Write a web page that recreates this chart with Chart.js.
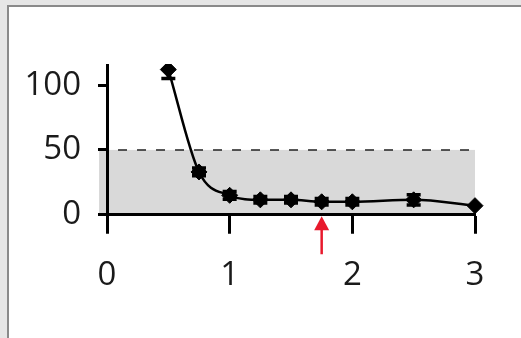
<!DOCTYPE html>
<html>
<head>
<meta charset="utf-8">
<script src="https://cdn.jsdelivr.net/npm/chart.js@4.4.0/dist/chart.umd.min.js"></script>
<style>
  html, body { margin:0; padding:0; width:521px; height:338px; overflow:hidden; background:#e6e6e6; }
  #frame { position:absolute; left:7px; top:5px; width:600px; height:400px; background:#fff;
           border-left:2.5px solid #8a8a8a; border-top:2.5px solid #8a8a8a; }
  #c { position:absolute; left:0; top:0; }
</style>
</head>
<body>
<div id="frame"></div>
<canvas id="c" width="521" height="338"></canvas>
<script>
// ---- data ----
const xValues   = [0.5, 0.75, 1.0, 1.25, 1.5, 1.75, 2.0, 2.5, 3.0];
const yValues   = [112, 33, 15, 11.5, 11.5, 10, 10, 11.5, 7];
const yErrors   = [7, 3, 3, 2.5, 2.5, 2.5, 2.5, 4, 0];
const yTickVals = [0, 50, 100];
const xTickVals = [0, 1, 2, 3];
const thresholdValue = 50;          // dashed line / shaded band upper bound
const bandXRange = [-0.065, 3];     // shaded band extent on x
const arrowX = [1.75];              // red arrow marker position

const points = xValues.map((x, i) => ({ x: x, y: yValues[i] }));

const bandPlugin = {
  id: 'band',
  beforeDraw(chart) {
    const { ctx, scales: { x, y } } = chart;
    const x0 = x.getPixelForValue(bandXRange[0]);
    const x1 = x.getPixelForValue(bandXRange[1]);
    const yt = y.getPixelForValue(thresholdValue);
    const yb = y.getPixelForValue(0);
    ctx.save();
    ctx.fillStyle = '#d9d9d9';
    ctx.fillRect(x0, yt, x1 - x0, yb - yt);
    ctx.strokeStyle = '#222';
    ctx.lineWidth = 1.5;
    ctx.setLineDash([9, 10]);
    ctx.beginPath();
    ctx.moveTo(x0, yt);
    ctx.lineTo(x1 + 2, yt);
    ctx.stroke();
    ctx.restore();
  }
};

const errorBarPlugin = {
  id: 'errbars',
  afterDatasetsDraw(chart) {
    const { ctx, chartArea, scales: { x, y } } = chart;
    ctx.save();
    ctx.beginPath();
    ctx.rect(0, chartArea.top - 1, chart.width, chart.height);
    ctx.clip();
    ctx.strokeStyle = '#000';
    ctx.lineWidth = 3.5;
    xValues.forEach((xv, i) => {
      const e = yErrors[i];
      if (!e) return;
      const px = x.getPixelForValue(xv);
      const ph = y.getPixelForValue(yValues[i] + e);
      const pl = y.getPixelForValue(yValues[i] - e);
      ctx.beginPath();
      ctx.moveTo(px, ph); ctx.lineTo(px, pl);
      ctx.moveTo(px - 7, ph); ctx.lineTo(px + 7, ph);
      ctx.moveTo(px - 7, pl); ctx.lineTo(px + 7, pl);
      ctx.stroke();
    });
    ctx.restore();
  }
};

const arrowPlugin = {
  id: 'arrow',
  afterDraw(chart) {
    const { ctx, scales: { x, y } } = chart;
    arrowX.forEach(av => {
      const px = x.getPixelForValue(av);
      const tip = y.getPixelForValue(0) + 1.5;
      ctx.save();
      ctx.strokeStyle = '#e8192c';
      ctx.fillStyle = '#e8192c';
      ctx.lineWidth = 2.5;
      ctx.beginPath();
      ctx.moveTo(px, tip + 10);
      ctx.lineTo(px, tip + 38);
      ctx.stroke();
      ctx.beginPath();
      ctx.moveTo(px, tip);
      ctx.lineTo(px - 7.5, tip + 14);
      ctx.lineTo(px + 7.5, tip + 14);
      ctx.closePath();
      ctx.fill();
      ctx.restore();
    });
  }
};

new Chart(document.getElementById('c'), {
  type: 'line',
  data: {
    datasets: [{
      data: points,
      borderColor: '#000',
      borderWidth: 2.5,
      cubicInterpolationMode: 'monotone',
      pointStyle: 'rectRot',
      pointRadius: 8,
      pointBackgroundColor: '#000',
      pointBorderColor: '#000',
      pointBorderWidth: 1,
      fill: false,
      clip: { left: false, top: 1, right: false, bottom: false }
    }]
  },
  options: {
    responsive: false,
    animation: false,
    layout: { padding: { left: 0, top: 65, right: 46, bottom: 0 } },
    plugins: { legend: { display: false }, tooltip: { enabled: false } },
    scales: {
      x: {
        type: 'linear', min: 0, max: 3,
        afterBuildTicks: s => { s.ticks = xTickVals.map(v => ({ value: v })); },
        afterFit: s => { s.height = 123.25; },
        grid: { drawOnChartArea: false, drawTicks: true, tickLength: 19, tickWidth: 3, tickColor: '#000' },
        border: { display: true, color: '#000', width: 3 },
        ticks: { font: { family: 'Open Sans', size: 33 }, color: '#1a1a1a', padding: 22, maxRotation: 0 }
      },
      y: {
        type: 'linear', min: 0, max: 115.5,
        afterBuildTicks: s => { s.ticks = yTickVals.map(v => ({ value: v })); },
        afterFit: s => { s.width = 107; },
        grid: { drawOnChartArea: false, drawTicks: true, tickLength: 9, tickWidth: 3, tickColor: '#000' },
        border: { display: true, color: '#000', width: 3 },
        ticks: { font: { family: 'Open Sans', size: 33 }, color: '#1a1a1a', padding: 17 }
      }
    }
  },
  plugins: [bandPlugin, errorBarPlugin, arrowPlugin]
});
</script>
</body>
</html>
